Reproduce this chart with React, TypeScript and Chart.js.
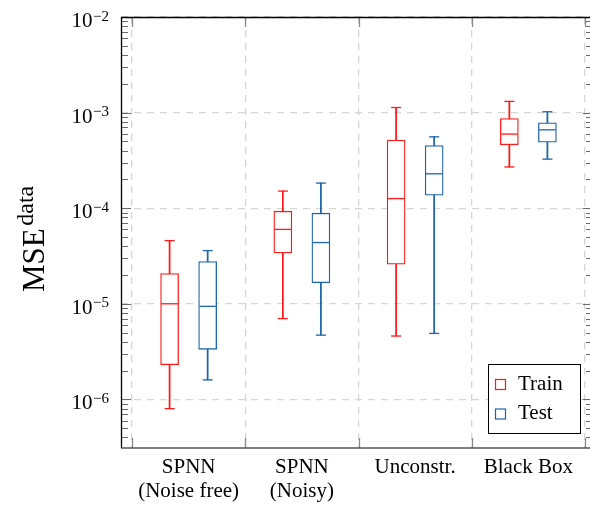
import React, { useEffect, useRef } from "react";
import { Chart, registerables } from "chart.js";

Chart.register(...registerables);

// ---------- data ----------
const categories: string[][] = [
  ["SPNN", "(Noise free)"],
  ["SPNN", "(Noisy)"],
  ["Unconstr."],
  ["Black Box"],
];
const seriesNames = ["Train", "Test"];

const trainMin = [8.0e-7, 7.0e-6, 4.6e-6, 2.7e-4];
const trainQ1 = [2.3e-6, 3.4e-5, 2.6e-5, 4.6e-4];
const trainMed = [1.0e-5, 6.0e-5, 1.26e-4, 5.96e-4];
const trainQ3 = [2.07e-5, 9.3e-5, 5.15e-4, 8.67e-4];
const trainMax = [4.58e-5, 1.51e-4, 1.13e-3, 1.31e-3];

const testMin = [1.6e-6, 4.7e-6, 4.9e-6, 3.26e-4];
const testQ1 = [3.34e-6, 1.66e-5, 1.37e-4, 4.91e-4];
const testMed = [9.4e-6, 4.37e-5, 2.29e-4, 6.6e-4];
const testQ3 = [2.76e-5, 8.87e-5, 4.53e-4, 7.81e-4];
const testMax = [3.6e-5, 1.83e-4, 5.58e-4, 1.02e-3];

const yTickExponents = [-6, -5, -4, -3, -2];
const yAxisTitle = "MSE";
const yAxisTitleSup = "data";

// ---------- styles ----------
const RED = "#ff1a1a";
const BLUE = "#1d65aa";
const GRID = "#d6d6d6";
const FONT = '"Liberation Serif", "Times New Roman", serif';
const OFFSET = 0.168;

const groups = [
  { name: seriesNames[0], color: RED, off: -OFFSET, min: trainMin, q1: trainQ1, med: trainMed, q3: trainQ3, max: trainMax },
  { name: seriesNames[1], color: BLUE, off: OFFSET, min: testMin, q1: testQ1, med: testMed, q3: testQ3, max: testMax },
];

function buildDatasets(): any[] {
  const ds: any[] = [];
  groups.forEach((g) => {
    ds.push({
      type: "line",
      label: g.name + " median",
      data: g.med.map((v, i) => ({ x: i + 1 + g.off, y: v })),
      showLine: false,
      pointStyle: "line",
      pointRadius: 8.2,
      pointHoverRadius: 8.2,
      pointBorderWidth: 1.3,
      pointBorderColor: g.color,
      borderColor: g.color,
      order: 0,
    });
  });
  groups.forEach((g) => {
    ds.push({
      type: "bar",
      label: g.name,
      data: g.q1.map((v, i) => ({ x: i + 1 + g.off, y: [v, g.q3[i]] })),
      backgroundColor: "#ffffff",
      borderColor: g.color,
      borderWidth: 1.3,
      borderSkipped: false,
      barThickness: 18,
      grouped: false,
      order: 1,
    });
  });
  groups.forEach((g) => {
    ds.push({
      type: "bar",
      label: g.name + " whisker",
      data: g.min.map((v, i) => ({ x: i + 1 + g.off, y: [v, g.max[i]] })),
      backgroundColor: g.color,
      borderWidth: 0,
      barThickness: 1.1,
      grouped: false,
      order: 2,
    });
    ds.push({
      type: "line",
      label: g.name + " caps",
      data: [
        ...g.min.map((v, i) => ({ x: i + 1 + g.off, y: v })),
        ...g.max.map((v, i) => ({ x: i + 1 + g.off, y: v })),
      ],
      showLine: false,
      pointStyle: "line",
      pointRadius: 5,
      pointHoverRadius: 5,
      pointBorderWidth: 1.3,
      pointBorderColor: g.color,
      borderColor: g.color,
      order: 2,
    });
  });
  return ds;
}

const decorPlugin = {
  id: "decor",
  afterDraw(chart: any) {
    const ctx: CanvasRenderingContext2D = chart.ctx;
    const { left, right, top, bottom } = chart.chartArea;
    const xs = chart.scales.x;
    const ys = chart.scales.y;
    const rightAxis = xs.getPixelForValue(4.5) + 8;
    ctx.save();

    // x major ticks
    ctx.strokeStyle = "#8a8a8a";
    ctx.lineWidth = 1.3;
    for (let k = 0; k <= categories.length; k++) {
      const px = Math.round(xs.getPixelForValue(k + 0.5)) + 0.5;
      ctx.beginPath();
      ctx.moveTo(px, top);
      ctx.lineTo(px, top + 10);
      ctx.moveTo(px, bottom);
      ctx.lineTo(px, bottom - 10);
      ctx.stroke();
    }

    // y ticks (major and minor), left and right
    ctx.strokeStyle = "#6a6a6a";
    ctx.lineWidth = 1;
    const yMin = ys.min;
    const yMax = ys.max;
    for (let e = -7; e <= -2; e++) {
      for (let m = 1; m <= 9; m++) {
        const v = m * Math.pow(10, e);
        if (v < yMin || v > yMax * 1.0001) continue;
        const py = Math.round(ys.getPixelForValue(v)) + 0.5;
        const len = m === 1 ? 10 : 7;
        ctx.beginPath();
        ctx.moveTo(left, py);
        ctx.lineTo(left + len, py);
        ctx.moveTo(rightAxis, py);
        ctx.lineTo(rightAxis - len, py);
        ctx.stroke();
      }
    }

    // axis lines
    ctx.lineWidth = 1.3;
    ctx.strokeStyle = "#000";
    ctx.beginPath();
    ctx.moveTo(left + 0.5, top);
    ctx.lineTo(left + 0.5, bottom);
    ctx.moveTo(left, top + 0.5);
    ctx.lineTo(right, top + 0.5);
    ctx.stroke();
    ctx.strokeStyle = "#555";
    ctx.beginPath();
    ctx.moveTo(left, bottom);
    ctx.lineTo(right, bottom);
    ctx.stroke();

    // y tick labels 10^e
    ctx.fillStyle = "#000";
    ctx.textAlign = "left";
    ctx.textBaseline = "alphabetic";
    const labelRight = left - 12;
    yTickExponents.forEach((e) => {
      const py = ys.getPixelForValue(Math.pow(10, e));
      const expStr = "\u2212" + Math.abs(e);
      ctx.font = `15px ${FONT}`;
      const expW = ctx.measureText(expStr).width;
      ctx.fillText(expStr, labelRight - expW, py + 3.5);
      ctx.font = `21px ${FONT}`;
      const baseW = ctx.measureText("10").width;
      ctx.fillText("10", labelRight - expW - baseW - 0.5, py + 10);
    });

    // category labels
    ctx.textAlign = "center";
    ctx.font = `21px ${FONT}`;
    categories.forEach((lines, i) => {
      const px = xs.getPixelForValue(i + 1);
      lines.forEach((t, j) => {
        ctx.fillText(t, px, 472.5 + j * 24.5);
      });
    });

    // y axis title (MSE with superscript)
    ctx.save();
    ctx.translate(44, 292);
    ctx.rotate(-Math.PI / 2);
    ctx.textAlign = "left";
    ctx.font = `31px ${FONT}`;
    const wM = ctx.measureText(yAxisTitle).width;
    ctx.fillText(yAxisTitle, 0, 0);
    ctx.font = `24px ${FONT}`;
    ctx.fillText(yAxisTitleSup, wM + 2.5, -11);
    ctx.restore();

    // legend
    const lx = 488.5, ly = 364.5, lw = 92, lh = 69;
    ctx.fillStyle = "#fff";
    ctx.fillRect(lx, ly, lw, lh);
    ctx.strokeStyle = "#000";
    ctx.lineWidth = 1;
    ctx.strokeRect(lx, ly, lw, lh);
    groups.forEach((g, i) => {
      const sy = 379.5 + i * 29.5;
      ctx.strokeStyle = g.color;
      ctx.lineWidth = 1.2;
      ctx.strokeRect(495.5, sy, 10, 10);
      ctx.fillStyle = "#000";
      ctx.font = `21px ${FONT}`;
      ctx.textAlign = "left";
      ctx.fillText(g.name, 518, 389.5 + i * 29.5);
    });

    ctx.restore();
  },
};

export default function App() {
  const ref = useRef<HTMLCanvasElement | null>(null);
  useEffect(() => {
    if (!ref.current) return;
    const chart = new Chart(ref.current, {
      type: "bar",
      data: { datasets: buildDatasets() },
      options: {
        animation: false,
        responsive: false,
        events: [],
        layout: { autoPadding: false, padding: { left: 121, top: 17, right: 0, bottom: 58 } },
        plugins: { legend: { display: false }, tooltip: { enabled: false }, title: { display: false } },
        scales: {
          x: {
            type: "linear",
            min: 0.5 - 11 / 113.25,
            max: 4.5 + 5 / 113.25,
            offset: false,
            afterBuildTicks: (scale: any) => {
              scale.ticks = [0.5, 1.5, 2.5, 3.5, 4.5].map((v) => ({ value: v }));
            },
            grid: { color: GRID, lineWidth: 1.3, drawTicks: false, offset: false },
            border: { display: false, dash: [7, 6] },
            ticks: { display: false },
          },
          y: {
            type: "logarithmic",
            min: 3.1e-7,
            max: 1e-2,
            afterBuildTicks: (scale: any) => {
              scale.ticks = yTickExponents.map((e) => ({ value: Math.pow(10, e) }));
            },
            grid: { color: GRID, lineWidth: 1.3, drawTicks: false },
            border: { display: false, dash: [7, 6] },
            ticks: { display: false },
          },
        },
      } as any,
      plugins: [decorPlugin],
    });
    return () => chart.destroy();
  }, []);
  return (
    <div style={{ position: "fixed", left: 0, top: 0, width: 590, height: 506, background: "#fff" }}>
      <canvas ref={ref} width={590} height={506} style={{ display: "block" }} />
    </div>
  );
}
